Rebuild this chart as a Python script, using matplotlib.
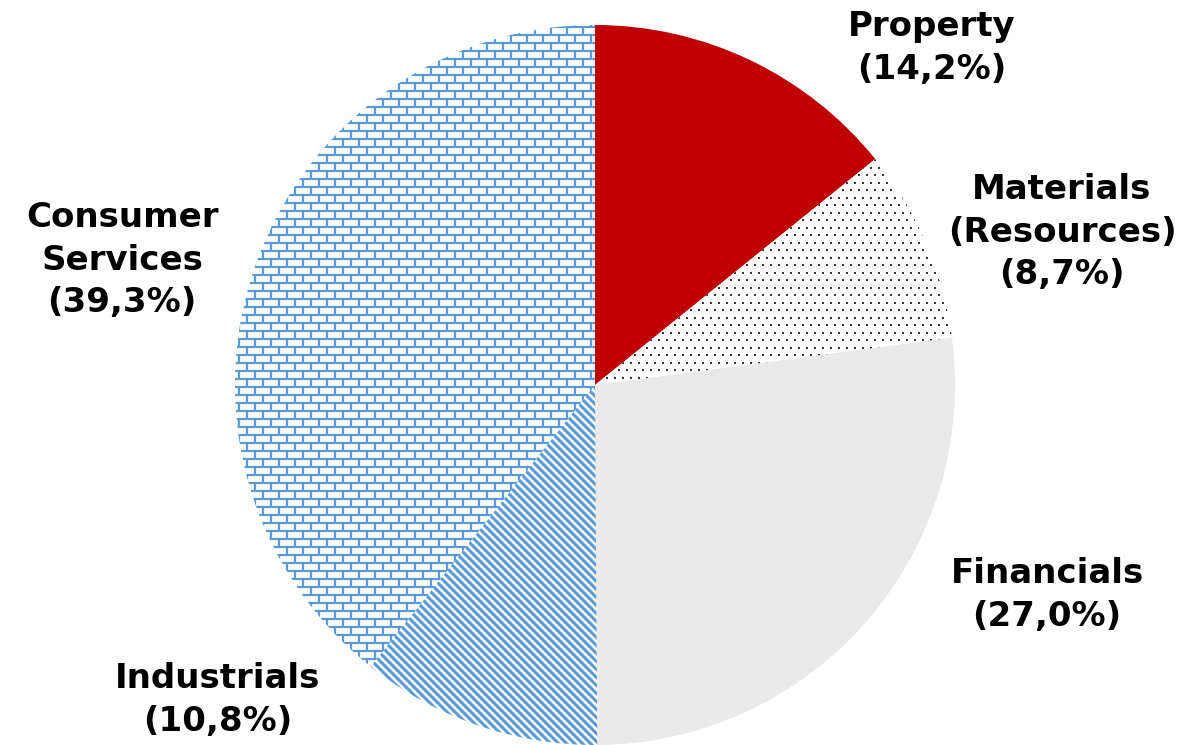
import numpy as np
import matplotlib
matplotlib.use("Agg")
import matplotlib.pyplot as plt
from matplotlib.collections import LineCollection

categories = ["Property", "Materials\n(Resources)", "Financials", "Industrials", "Consumer\nServices"]
values = [14.2, 8.7, 27.0, 10.8, 39.3]
value_labels = ["14,2%", "8,7%", "27,0%", "10,8%", "39,3%"]

W, H = 1196, 745
fig = plt.figure(figsize=(W / 100, H / 100), dpi=100)
ax = fig.add_axes([0, 0, 1, 1])

cx, cy, R = 595, 360, 360
red = "#C00000"
grey = "#EAEAEA"
blue = "#5B9BD5"
facecols = [red, "white", grey, "white", "white"]

wedges, _ = ax.pie(values, startangle=90, counterclock=False, center=(cx, cy),
                   radius=R, colors=facecols, wedgeprops=dict(linewidth=0))
ax.set_xlim(0, W)
ax.set_ylim(0, H)
ax.set_aspect("equal")
ax.axis("off")

# Materials: dots
xs, ys = [], []
for j, y in enumerate(np.arange(cy - R, cy + R, 7.5)):
    off = 0 if j % 2 == 0 else 4
    for x in np.arange(cx - R + off, cx + R, 8):
        xs.append(x); ys.append(y)
sc = ax.scatter(xs, ys, s=2.6, marker="s", color="#383838", linewidths=0, zorder=3)
sc.set_clip_path(wedges[1])

# Industrials: diagonal stripes (\ direction)
segs = []
for c in np.arange(-2 * W, 2 * W, 8):
    segs.append([(c - (cy + R + 50), cy + R + 50), (c - (cy - R - 50), cy - R - 50)])
lc = LineCollection(segs, colors=blue, linewidths=2.2, zorder=3)
ax.add_collection(lc)
lc.set_clip_path(wedges[3])

# Consumer Services: bricks
segs = []
rowh, bw = 8, 16
y0 = cy - R - 10
rows = np.arange(y0, cy + R + 10, rowh)
for i, y in enumerate(rows):
    segs.append([(cx - R - 10, y), (cx + R + 10, y)])
    off = 0 if i % 2 == 0 else bw / 2
    for x in np.arange(cx - R - 20 + off, cx + R + 10, bw):
        segs.append([(x, y), (x, y + rowh)])
lc2 = LineCollection(segs, colors=blue, linewidths=1.6, zorder=3)
ax.add_collection(lc2)
lc2.set_clip_path(wedges[4])

label_pos = [(932, 697), (1062, 513), (1047, 150), (218, 45), (122, 485)]
for cat, vl, (lx, ly) in zip(categories, value_labels, label_pos):
    ax.text(lx, ly, f"{cat}\n({vl})", ha="center", va="center", fontsize=24.5,
            fontweight="bold", linespacing=1.38, color="black", family="DejaVu Sans")

fig.savefig("out.png", dpi=100)
